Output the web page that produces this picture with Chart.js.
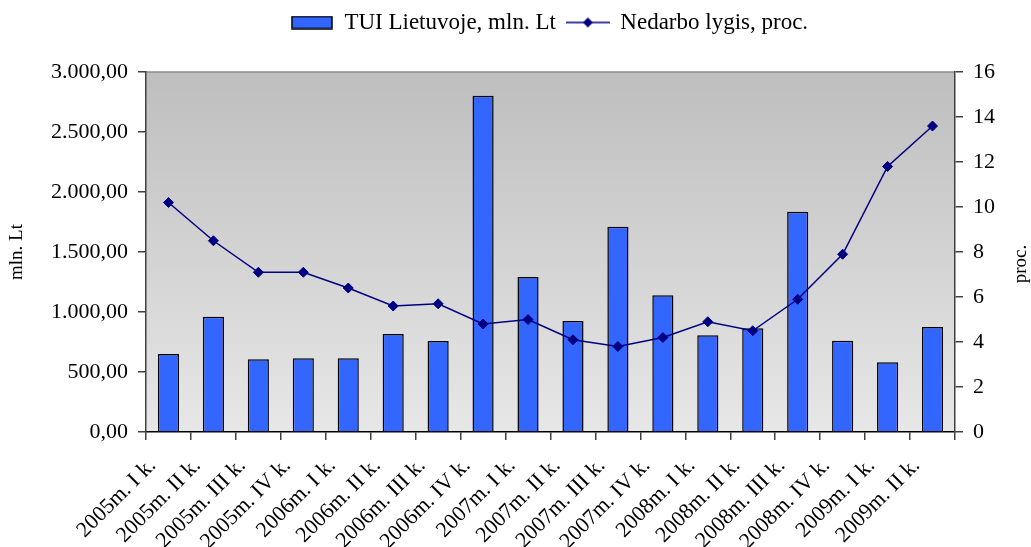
<!DOCTYPE html>
<html>
<head>
<meta charset="utf-8">
<script src="https://cdn.jsdelivr.net/npm/chart.js@4"></script>
<style>
  html, body { margin: 0; padding: 0; background: #fff; }
  #tui-chart { display: block; }
</style>
</head>
<body>
<canvas id="tui-chart" width="1031" height="547"></canvas>
<script>
const quarters = [
    '2005m. I k.', '2005m. II k.', '2005m. III k.', '2005m. IV k.',
    '2006m. I k.', '2006m. II k.', '2006m. III k.', '2006m. IV k.',
    '2007m. I k.', '2007m. II k.', '2007m. III k.', '2007m. IV k.',
    '2008m. I k.', '2008m. II k.', '2008m. III k.', '2008m. IV k.',
    '2009m. I k.', '2009m. II k.'
];
const tuiValues = [650, 960, 606, 614, 614, 817, 758, 2803, 1292, 925, 1711, 1139, 806, 864, 1836, 761, 581, 875];
const unemployment = [10.2, 8.5, 7.1, 7.1, 6.4, 5.6, 5.7, 4.8, 5.0, 4.1, 3.8, 4.2, 4.9, 4.5, 5.9, 7.9, 11.8, 13.6];
const leftTicks = { min: 0, max: 3000, step: 500 };
const rightTicks = { min: 0, max: 16, step: 2 };

const serif = "'Liberation Serif', 'Times New Roman', serif";

function ltFormat(v) {
    const parts = v.toFixed(2).split('.');
    return parts[0].replace(/\B(?=(\d{3})+(?!\d))/g, '.') + ',' + parts[1];
}

// little pictures for the legend keys
function barKey() {
    const c = document.createElement('canvas');
    c.width = 42; c.height = 14;
    const g = c.getContext('2d');
    g.fillStyle = '#3366ff';
    g.fillRect(1, 1, 40, 12);
    g.strokeStyle = '#000';
    g.lineWidth = 1.5;
    g.strokeRect(1, 1, 40, 12);
    return c;
}
function lineKey() {
    const c = document.createElement('canvas');
    c.width = 44; c.height = 14;
    const g = c.getContext('2d');
    g.strokeStyle = '#000080';
    g.lineWidth = 1.5;
    g.beginPath(); g.moveTo(0, 7); g.lineTo(44, 7); g.stroke();
    g.fillStyle = '#000080';
    g.beginPath(); g.moveTo(22, 2); g.lineTo(27, 7); g.lineTo(22, 12); g.lineTo(17, 7); g.closePath(); g.fill();
    return c;
}

const plotBackground = {
    id: 'plotBackground',
    afterInit(chart) {
        const legend = chart.legend;
        const fit = legend.fit;
        legend.fit = function () { fit.call(this); this.height = 72; };
    },
    afterLayout(chart) {
        chart.legend.left += 34;
        chart.legend.right += 34;
    },
    beforeDraw(chart) {
        const { ctx, chartArea: a } = chart;
        const grad = ctx.createLinearGradient(0, a.top, 0, a.bottom);
        grad.addColorStop(0, '#bebebe');
        grad.addColorStop(1, '#e7e7e7');
        ctx.save();
        ctx.fillStyle = grad;
        ctx.fillRect(a.left, a.top, a.right - a.left, a.bottom - a.top);
        ctx.strokeStyle = '#8a8a8a';
        ctx.lineWidth = 1.5;
        ctx.beginPath();
        ctx.moveTo(a.left, a.top);
        ctx.lineTo(a.right, a.top);
        ctx.stroke();
        ctx.restore();
    },
    afterDraw(chart) {
        // right axis title reads bottom-to-top like the left one
        const { ctx } = chart;
        ctx.save();
        ctx.translate(1021, 264);
        ctx.rotate(-Math.PI / 2);
        ctx.font = '19px ' + serif;
        ctx.fillStyle = '#000';
        ctx.textAlign = 'center';
        ctx.textBaseline = 'middle';
        ctx.fillText('proc.', 0, 0);
        ctx.restore();
    }
};

new Chart(document.getElementById('tui-chart'), {
    data: {
        labels: quarters,
        datasets: [{
            type: 'bar',
            label: 'TUI Lietuvoje, mln. Lt',
            data: tuiValues,
            yAxisID: 'y',
            backgroundColor: '#3366ff',
            borderColor: '#000',
            borderWidth: 1.5,
            barPercentage: 0.47,
            categoryPercentage: 1,
            order: 1
        }, {
            type: 'line',
            label: 'Nedarbo lygis, proc.',
            data: unemployment,
            yAxisID: 'y1',
            borderColor: '#000080',
            borderWidth: 1.5,
            pointStyle: 'rectRot',
            pointRadius: 5,
            pointBackgroundColor: '#000080',
            pointBorderColor: '#000080',
            pointBorderWidth: 1,
            tension: 0,
            order: 0
        }]
    },
    options: {
        responsive: false,
        animation: false,
        devicePixelRatio: 1,
        layout: { padding: 0 },
        plugins: {
            tooltip: { enabled: false },
            legend: {
                position: 'top',
                labels: {
                    usePointStyle: true,
                    pointStyleWidth: 42,
                    padding: 11,
                    color: '#000',
                    font: { family: serif, size: 23 },
                    generateLabels: () => [
                        { text: 'TUI Lietuvoje, mln. Lt', pointStyle: barKey(), fontColor: '#000', lineWidth: 0, datasetIndex: 0 },
                        { text: 'Nedarbo lygis, proc.', pointStyle: lineKey(), fontColor: '#000', lineWidth: 0, datasetIndex: 1 }
                    ]
                }
            }
        },
        scales: {
            x: {
                afterFit: (s) => { s.height = 115; },
                border: { color: '#000', width: 1.5 },
                grid: { offset: true, drawOnChartArea: false, tickLength: 8, color: '#404040', lineWidth: 1.5 },
                ticks: {
                    autoSkip: false,
                    maxRotation: 45,
                    minRotation: 45,
                    labelOffset: -16,
                    padding: 13,
                    color: '#000',
                    font: { family: serif, size: 22 }
                }
            },
            y: {
                position: 'left',
                min: leftTicks.min,
                max: leftTicks.max,
                afterFit: (s) => { s.width = 146; },
                border: { color: '#404040', width: 1.5 },
                grid: { drawOnChartArea: false, tickLength: 8, color: '#404040', lineWidth: 1.5 },
                ticks: {
                    stepSize: leftTicks.step,
                    padding: 10,
                    color: '#000',
                    font: { family: serif, size: 22 },
                    callback: (v) => ltFormat(v)
                },
                title: {
                    display: true,
                    text: 'mln. Lt',
                    color: '#000',
                    padding: { top: 6, bottom: 0 },
                    font: { family: serif, size: 19 }
                }
            },
            y1: {
                position: 'right',
                min: rightTicks.min,
                max: rightTicks.max,
                afterFit: (s) => { s.width = 76; },
                border: { color: '#404040', width: 1.5 },
                grid: { drawOnChartArea: false, tickLength: 8, color: '#404040', lineWidth: 1.5 },
                ticks: {
                    stepSize: rightTicks.step,
                    padding: 10,
                    color: '#000',
                    font: { family: serif, size: 22 }
                }
            }
        }
    },
    plugins: [plotBackground]
});
</script>
</body>
</html>
